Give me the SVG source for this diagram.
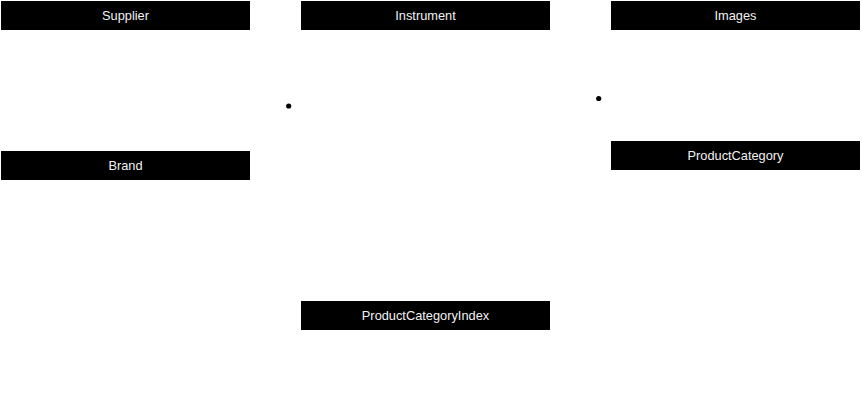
<svg xmlns="http://www.w3.org/2000/svg" width="862" height="402" viewBox="0 0 862 402">
<style>
.hdr{fill:#000;}
.lbl{fill:#f2f2f2;font-family:"Liberation Sans",Arial,sans-serif;font-size:12.8px;text-anchor:middle;dominant-baseline:central;}
.dot{fill:#000;}
</style>
<rect width="862" height="402" fill="#fff"/>
<g id="Supplier"><rect class="hdr" x="1" y="1" width="249" height="29"/><text class="lbl" x="125.5" y="15.5">Supplier</text></g>
<g id="Instrument"><rect class="hdr" x="301" y="1" width="249" height="29"/><text class="lbl" x="425.5" y="15.5">Instrument</text></g>
<g id="Images"><rect class="hdr" x="611" y="1" width="249" height="29"/><text class="lbl" x="735.5" y="15.5">Images</text></g>
<g id="Brand"><rect class="hdr" x="1" y="151" width="249" height="29"/><text class="lbl" x="125.5" y="165.5">Brand</text></g>
<g id="ProductCategory"><rect class="hdr" x="611" y="141" width="249" height="29"/><text class="lbl" x="735.5" y="155.5">ProductCategory</text></g>
<g id="ProductCategoryIndex"><rect class="hdr" x="301" y="301" width="249" height="29"/><text class="lbl" x="425.5" y="315.5">ProductCategoryIndex</text></g>
<g id="connectors">
<circle class="dot" cx="288.7" cy="106" r="2.6"/>
<circle class="dot" cx="598.7" cy="98.5" r="2.6"/>
</g>
</svg>
